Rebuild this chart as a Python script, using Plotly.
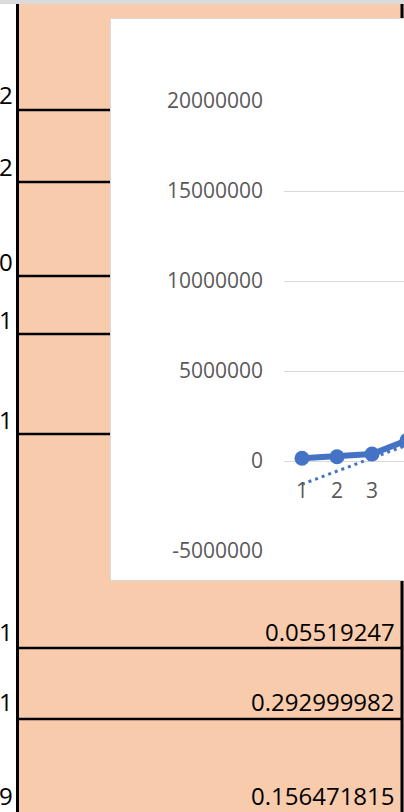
import plotly.graph_objects as go

# chart data
categories = ["1", "2", "3", "4"]
values = [150000, 240000, 390000, 1150000]
trend_x = ["1", "4"]
trend_y = [-1290000, 885000]
y_ticks = [-5000000, 0, 5000000, 10000000, 15000000, 20000000]

# spreadsheet cells around the chart
right_cells = ["0.05519247", "0.292999982", "0.156471815"]
left_digits = ["2", "2", "0", "1", "1", "1", "1", "9"]

BLUE = "#4472C4"
PEACH = "#F8CBAD"
GRID = "#D9D9D9"

# plot area in pixels
W, H = 404, 812
L, T, R, B = 284, 101, 0, 261
PW, PH = W - L - R, H - T - B


def px(x):
    return (x - L) / PW


def py(y):
    return (H - B - y) / PH


fig = go.Figure()

fig.add_trace(go.Scatter(
    x=trend_x, y=trend_y, mode="lines",
    line=dict(color=BLUE, width=3, dash="3px,4px"),
    hoverinfo="skip", showlegend=False,
))
fig.add_trace(go.Scatter(
    x=categories, y=values, mode="lines+markers",
    line=dict(color=BLUE, width=6),
    marker=dict(color=BLUE, size=15),
    showlegend=False,
))

shapes = []
# white column on the left and grey header strip
shapes.append(dict(type="rect", xref="paper", yref="paper", x0=px(-5), x1=px(17), y0=py(0), y1=py(820),
                   fillcolor="white", line=dict(width=0), layer="below"))
shapes.append(dict(type="rect", xref="paper", yref="paper", x0=px(-5), x1=px(410), y0=py(-5), y1=py(4),
                   fillcolor="#DADADA", line=dict(width=0), layer="below"))
# cell borders
for yy in [110, 182, 276, 334, 434, 648, 719]:
    shapes.append(dict(type="line", xref="paper", yref="paper", x0=px(18), x1=px(401), y0=py(yy), y1=py(yy),
                       line=dict(color="black", width=2.5), layer="below"))
for xx in [17.5, 402]:
    shapes.append(dict(type="line", xref="paper", yref="paper", x0=px(xx), x1=px(xx), y0=py(4), y1=py(820),
                       line=dict(color="black", width=3), layer="below"))
# chart area
shapes.append(dict(type="rect", xref="paper", yref="paper", x0=px(110.5), x1=px(420), y0=py(18.5), y1=py(580.5),
                   fillcolor="white", line=dict(color=GRID, width=1), layer="below"))

annotations = []
cell_font = dict(family="Open Sans", size=24, color="black")
for txt, yy in zip(right_cells, [631, 701, 796]):
    annotations.append(dict(text=txt, xref="paper", yref="paper", x=px(396), y=py(yy),
                            xanchor="right", yanchor="middle", showarrow=False, font=cell_font, borderpad=0))
for txt, yy in zip(left_digits, [95, 167, 261, 319, 419, 631, 701, 795]):
    annotations.append(dict(text=txt, xref="paper", yref="paper", x=px(14), y=py(yy),
                            xanchor="right", yanchor="middle", showarrow=False, font=cell_font, borderpad=0))

fig.update_layout(
    width=W, height=H,
    margin=dict(l=L, r=R, t=T, b=B),
    paper_bgcolor=PEACH,
    plot_bgcolor="rgba(0,0,0,0)",
    font=dict(family="Open Sans", size=21, color="#595959"),
    shapes=shapes,
    annotations=annotations,
    xaxis=dict(
        type="category", categoryorder="array", categoryarray=categories,
        range=[-0.514, 2.914],
        anchor="free", position=0.2,
        showgrid=False, zeroline=False, showline=False,
        ticks="", ticklabelstandoff=15,
    ),
    yaxis=dict(
        range=[-5000000, 20000000], tickvals=y_ticks, ticktext=[str(v) for v in y_ticks],
        showgrid=True, gridcolor=GRID, gridwidth=1,
        zeroline=False, showline=False,
        ticks="", ticklabelstandoff=20,
    ),
)

# drop the default page margin so the figure sits at the window corner
fig.write_html("out.html", config={"displayModeBar": False},
               post_script="document.body.style.margin='0';")
